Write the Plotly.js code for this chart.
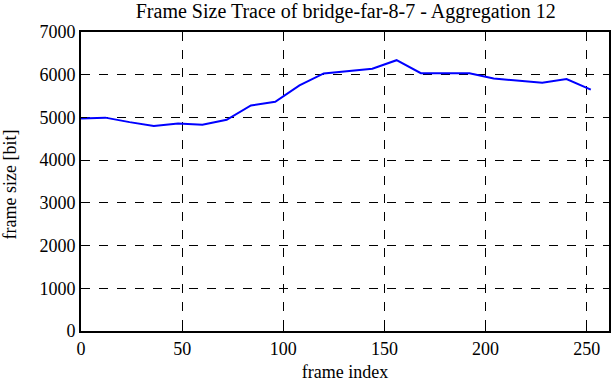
<!DOCTYPE html>
<html><head><meta charset="utf-8">
<script src="https://cdn.plot.ly/plotly-3.0.1.min.js"></script>
<style>body{margin:0;padding:0;background:#fff}#chart{width:612px;height:382px}</style>
</head><body><div id="chart"></div>
<script>
const frameIndex = [0,12,24,36,48,60,72,84,96,108,120,132,144,156,168,180,192,204,216,228,240,252];
const frameSize = [4975,4995,4890,4800,4860,4830,4945,5280,5365,5750,6030,6085,6140,6340,6035,6035,6035,5910,5860,5810,5900,5650];
const xTicks = [0,50,100,150,200,250];
const yTicks = [0,1000,2000,3000,4000,5000,6000,7000];
const titleText = "Frame Size Trace of bridge-far-8-7 - Aggregation 12";
const xTitle = "frame index";
const yTitle = "frame size [bit]";

const fam = "Liberation Serif, serif";
const f = s => ({family: fam, size: s, color: "#000"});
Plotly.newPlot("chart", [{
  x: frameIndex, y: frameSize, type: "scatter", mode: "lines",
  line: {color: "#0000ff", width: 2}
}], {
  width: 612, height: 382,
  margin: {l: 81, r: 3, t: 32, b: 51},
  paper_bgcolor: "#fff", plot_bgcolor: "#fff",
  font: f(18),
  showlegend: false,
  title: {text: titleText, font: f(20), x: 0.565, xanchor: "center", y: 0.99, yanchor: "top"},
  xaxis: {
    range: [0, 261], tickvals: xTicks, ticktext: xTicks.map(String), tickfont: f(18),
    showgrid: true, gridcolor: "#000", griddash: "dash", gridwidth: 1,
    showline: true, linecolor: "#000", linewidth: 2, mirror: "ticks",
    ticks: "inside", ticklen: 6, tickcolor: "#000", zeroline: false,
    title: {text: xTitle, font: f(18), standoff: 12}
  },
  yaxis: {
    range: [0, 7000], tickvals: yTicks, ticktext: yTicks.map(String), tickfont: f(18),
    showgrid: true, gridcolor: "#000", griddash: "dash", gridwidth: 1,
    showline: true, linecolor: "#000", linewidth: 2, mirror: "ticks",
    ticks: "inside", ticklen: 6, tickcolor: "#000", zeroline: false
  },
  annotations: [{
    text: yTitle, font: f(18), textangle: -90, showarrow: false,
    xref: "paper", yref: "paper", x: -71/528, y: 0.49, xanchor: "center", yanchor: "middle"
  }]
}, {displayModeBar: false, staticPlot: true});
</script></body></html>
